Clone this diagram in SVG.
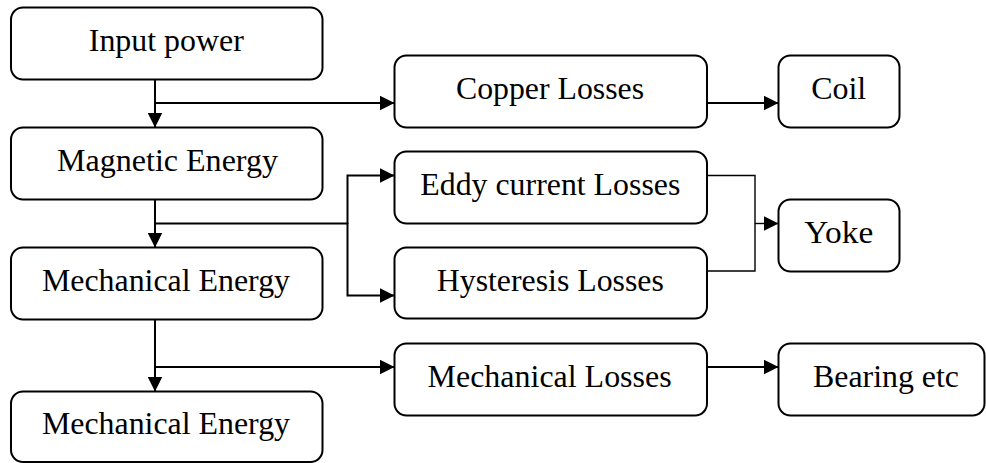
<svg xmlns="http://www.w3.org/2000/svg" width="986" height="463" viewBox="0 0 986 463">
<style>
.box{fill:#fff;stroke:#000;stroke-width:2}
.lbl{font-family:'Liberation Serif', 'Times New Roman', Times, serif;font-size:32px;fill:#000;text-anchor:middle}
.c{fill:none;stroke:#000;stroke-width:2}
.t{fill:none;stroke:#000;stroke-width:1.4}
</style>
<defs>
<marker id="ah" markerUnits="userSpaceOnUse" markerWidth="15" markerHeight="15" viewBox="0 0 15 15" refX="15" refY="7.5" orient="auto">
<path d="M0 0 L15 7.5 L0 15 z" fill="#000"/>
</marker>
</defs>
<rect width="986" height="463" fill="#fff"/>
<g id="connectors">
<path class="c" d="M155 79.5 V127.5" marker-end="url(#ah)"/>
<path class="c" d="M155 103 H394.5" marker-end="url(#ah)"/>
<path class="c" d="M155 199.5 V247.5" marker-end="url(#ah)"/>
<path class="c" d="M155 223.5 H347.5"/>
<path class="c" d="M347.5 224 V175.5 H394.5" marker-end="url(#ah)"/>
<path class="c" d="M347.5 223 V295.5 H394.5" marker-end="url(#ah)"/>
<path class="c" d="M155 319.5 V391.5" marker-end="url(#ah)"/>
<path class="c" d="M155 367 H394.5" marker-end="url(#ah)"/>
<path class="c" d="M706.5 103 H778.5" marker-end="url(#ah)"/>
<path class="t" d="M706.5 175.5 H755 V271 H706.5"/>
<path class="t" d="M755 223.5 H778.5" marker-end="url(#ah)"/>
<path class="c" d="M706.5 367 H778.5" marker-end="url(#ah)"/>
</g>
<g id="input-power"><rect class="box" x="11" y="7.5" width="311.5" height="72" rx="12"/><text class="lbl" x="166.3" y="51" textLength="155" lengthAdjust="spacingAndGlyphs">Input power</text></g>
<g id="magnetic-energy"><rect class="box" x="11" y="127.5" width="311.5" height="72" rx="12"/><text class="lbl" x="167.5" y="171" textLength="221" lengthAdjust="spacingAndGlyphs">Magnetic Energy</text></g>
<g id="mechanical-energy-1"><rect class="box" x="11" y="247.5" width="311.5" height="72" rx="12"/><text class="lbl" x="166" y="291" textLength="248" lengthAdjust="spacingAndGlyphs">Mechanical Energy</text></g>
<g id="mechanical-energy-2"><rect class="box" x="11" y="391.5" width="311.5" height="70.5" rx="12"/><text class="lbl" x="166" y="434.3" textLength="248" lengthAdjust="spacingAndGlyphs">Mechanical Energy</text></g>
<g id="copper-losses"><rect class="box" x="394.5" y="55.5" width="312.5" height="72" rx="12"/><text class="lbl" x="550" y="99" textLength="188" lengthAdjust="spacingAndGlyphs">Copper Losses</text></g>
<g id="eddy-current-losses"><rect class="box" x="394.5" y="151.5" width="312.5" height="72" rx="12"/><text class="lbl" x="550.3" y="195" textLength="260" lengthAdjust="spacingAndGlyphs">Eddy current Losses</text></g>
<g id="hysteresis-losses"><rect class="box" x="394.5" y="247.5" width="312.5" height="71" rx="12"/><text class="lbl" x="550.3" y="290.5" textLength="227" lengthAdjust="spacingAndGlyphs">Hysteresis Losses</text></g>
<g id="mechanical-losses"><rect class="box" x="394.5" y="343.5" width="312.5" height="72" rx="12"/><text class="lbl" x="549.6" y="386.7" textLength="244" lengthAdjust="spacingAndGlyphs">Mechanical Losses</text></g>
<g id="coil"><rect class="box" x="778.5" y="55.5" width="121" height="72" rx="12"/><text class="lbl" x="838.7" y="99" textLength="55" lengthAdjust="spacingAndGlyphs">Coil</text></g>
<g id="yoke"><rect class="box" x="778.5" y="199.5" width="121" height="72" rx="12"/><text class="lbl" x="838.8" y="243" textLength="69" lengthAdjust="spacingAndGlyphs">Yoke</text></g>
<g id="bearing-etc"><rect class="box" x="778.5" y="343.5" width="206" height="72" rx="12"/><text class="lbl" x="886" y="386.7" textLength="146" lengthAdjust="spacingAndGlyphs">Bearing etc</text></g>
</svg>
